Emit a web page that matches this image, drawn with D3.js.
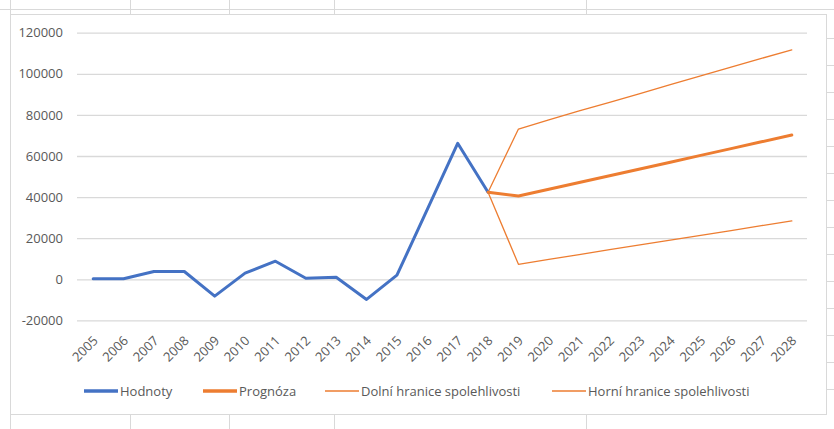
<!DOCTYPE html>
<html>
<head>
<meta charset="utf-8">
<script src="https://cdn.jsdelivr.net/npm/d3@7"></script>
<style>
  body { margin: 0; background: #fff; }
  text { font-family: "Open Sans", sans-serif; fill: #595959; }
</style>
</head>
<body>
<script>
// categories and series
const years = ["2005","2006","2007","2008","2009","2010","2011","2012","2013","2014","2015","2016",
  "2017","2018","2019","2020","2021","2022","2023","2024","2025","2026","2027","2028"];
const hodnoty = [300, 300, 3800, 3800, -8200, 3000, 8800, 500, 1000, -9800, 2000, 34000, 66200, 42400];
const prognozaYears = years.slice(13);
const prognoza = [42400, 40500, 43800, 47100, 50400, 53700, 57000, 60300, 63600, 66900, 70200];
const dolni = [42400, 7300, 9700, 12000, 14400, 16700, 19100, 21400, 23700, 26100, 28400];
const horni = [42400, 73100, 77600, 81900, 86100, 90400, 94700, 99000, 103300, 107500, 111600];
const yTicks = [-20000, 0, 20000, 40000, 60000, 80000, 100000, 120000];

const legendItems = [
  { name: "Hodnoty", color: "#4472C4", w: 3.5, x: 84 },
  { name: "Prognóza", color: "#ED7D31", w: 3.5, x: 203 },
  { name: "Dolní hranice spolehlivosti", color: "#ED7D31", w: 1.5, x: 325 },
  { name: "Horní hranice spolehlivosti", color: "#ED7D31", w: 1.5, x: 552 }
];

const width = 834, height = 429;
const svg = d3.select("body").append("svg")
  .attr("width", width)
  .attr("height", height);

// spreadsheet cells around the chart
const cellCols = [10, 130, 229, 334, 586];
const sheet = svg.append("g").attr("stroke", "#d9d9d9").attr("stroke-width", 1);
sheet.append("line").attr("x1", 0).attr("x2", width).attr("y1", 9.5).attr("y2", 9.5);
cellCols.forEach((cx) => {
  sheet.append("line").attr("x1", cx + 0.5).attr("x2", cx + 0.5).attr("y1", 0).attr("y2", 14);
  sheet.append("line").attr("x1", cx + 0.5).attr("x2", cx + 0.5).attr("y1", 414).attr("y2", height);
});
d3.range(38, 414, 27).forEach((ry) => {
  sheet.append("line").attr("x1", 826).attr("x2", width).attr("y1", ry + 0.5).attr("y2", ry + 0.5);
});

// chart area
svg.append("rect")
  .attr("x", 10.5).attr("y", 14.5)
  .attr("width", 816).attr("height", 400)
  .attr("fill", "#fff")
  .attr("stroke", "#d9d9d9");

const x = d3.scalePoint().domain(years).range([78, 807]).padding(0.5);
const y = d3.scaleLinear().domain([-20000, 120000]).range([320.4, 32.7]);

// gridlines
svg.append("g")
  .attr("transform", "translate(77,0)")
  .call(d3.axisLeft(y).tickValues(yTicks).tickSize(-730).tickPadding(14).tickFormat((d) => String(d)))
  .call((g) => g.select(".domain").remove())
  .call((g) => g.selectAll(".tick line").attr("stroke", "#d9d9d9").attr("stroke-width", 1.3))
  .call((g) => g.selectAll(".tick text")
    .style("font-size", "13px").attr("fill", "#595959"));

// x axis labels
svg.append("g")
  .attr("transform", `translate(0,${y(-20000)})`)
  .call(d3.axisBottom(x).tickSize(0).tickPadding(0))
  .call((g) => g.select(".domain").remove())
  .call((g) => g.selectAll(".tick text")
    .style("font-size", "13px")
    .attr("fill", "#595959")
    .attr("text-anchor", "end")
    .attr("dy", "0")
    .attr("transform", "translate(5,21) rotate(-45)"));

const line = d3.line().x((d) => x(d[0])).y((d) => y(d[1]));

function drawSeries(cats, vals, color, w) {
  svg.append("path")
    .datum(cats.map((c, i) => [c, vals[i]]))
    .attr("fill", "none")
    .attr("stroke", color)
    .attr("stroke-width", w)
    .attr("stroke-linejoin", "round")
    .attr("stroke-linecap", "round")
    .attr("d", line);
}

drawSeries(prognozaYears, dolni, "#ED7D31", 1.3);
drawSeries(prognozaYears, horni, "#ED7D31", 1.3);
drawSeries(years.slice(0, hodnoty.length), hodnoty, "#4472C4", 3);
drawSeries(prognozaYears, prognoza, "#ED7D31", 3);

// legend
const legend = svg.append("g").attr("transform", "translate(0,391)");
legendItems.forEach((it) => {
  legend.append("line")
    .attr("x1", it.x).attr("x2", it.x + 34)
    .attr("y1", 0).attr("y2", 0)
    .attr("stroke", it.color)
    .attr("stroke-width", it.w);
  legend.append("text")
    .attr("x", it.x + 36)
    .attr("y", 0)
    .attr("dy", "0.35em")
    .style("font-size", "13px")
    .text(it.name);
});
</script>
</body>
</html>
